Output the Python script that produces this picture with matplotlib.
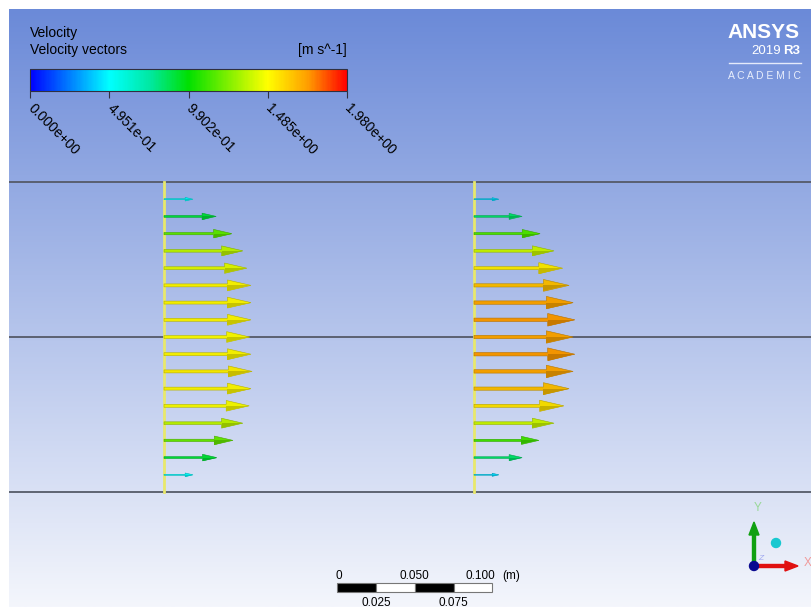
import numpy as np
import matplotlib
matplotlib.use('Agg')
from matplotlib import pyplot as plt
from matplotlib.colors import LinearSegmentedColormap, Normalize, to_rgb
from matplotlib.cm import ScalarMappable
from matplotlib.patches import Rectangle, FancyArrow, Circle, Polygon
from matplotlib.lines import Line2D

plt.rcParams['font.family'] = ['Liberation Sans', 'DejaVu Sans']

# geometry of the channel (m)
walls = [0.0, 0.1, 0.2]
planes = [0.1, 0.3]

# sample points on each plane, bottom to top (m)
y_pos = [0.0111, 0.0222, 0.0333, 0.0444, 0.0556, 0.0667, 0.0778, 0.0889, 0.1000,
         0.1111, 0.1222, 0.1333, 0.1444, 0.1556, 0.1667, 0.1778, 0.1889]

# velocity magnitude (m/s) at each point
vel_plane1 = [0.50, 0.91, 1.19, 1.36, 1.47, 1.50, 1.52, 1.50, 1.48,
              1.50, 1.50, 1.50, 1.43, 1.36, 1.17, 0.90, 0.50]
vel_plane2 = [0.43, 0.83, 1.12, 1.38, 1.55, 1.64, 1.71, 1.74, 1.71,
              1.74, 1.71, 1.64, 1.53, 1.38, 1.14, 0.83, 0.43]

vmin, vmax = 0.0, 1.980
cbar_ticks = [0.0, 0.4951, 0.9902, 1.485, 1.980]
cbar_labels = ['0.000e+00', '4.951e-01', '9.902e-01', '1.485e+00', '1.980e+00']

scale_ticks_top = [0.0, 0.050, 0.100]
scale_labels_top = ['0', '0.050', '0.100']
scale_ticks_bot = [0.025, 0.075]
scale_labels_bot = ['0.025', '0.075']

W, H = 811, 607
px_per_m = 1550.0
vec_scale = 0.0374  # m of arrow per m/s

rainbow = LinearSegmentedColormap.from_list(
    'ansys', [(0, '#0000ff'), (0.25, '#00ffff'), (0.38, '#00e8a0'), (0.5, '#00e000'),
              (0.75, '#ffff00'), (0.875, '#ffa000'), (1, '#ff0000')])
norm = Normalize(vmin, vmax)

fig = plt.figure(figsize=(W / 100, H / 100), dpi=100)
fig.patch.set_facecolor('white')

# main view, in metres
ax = fig.add_axes([9 / W, 0, (W - 9) / W, (H - 9) / H])
x0, x1 = 0.0, (W - 9) / px_per_m
y0, y1 = (492 - H) / px_per_m, (492 - 9) / px_per_m
ax.set_xlim(x0, x1)
ax.set_ylim(y0, y1)
ax.axis('off')

bg = LinearSegmentedColormap.from_list('bg', ['#f4f6fc', '#6b8ad8'])
grad = np.linspace(0, 1, 256).reshape(-1, 1)
ax.imshow(grad, extent=[x0, x1, y0, y1], origin='lower', aspect='auto', cmap=bg, zorder=0)

for w in walls:
    ax.axhline(w, color='#555a68', lw=1.3, zorder=2)
for p in planes:
    ax.plot([p, p], [walls[0], walls[-1]], color='#e8e86c', lw=2, zorder=3)

for p, vels in zip(planes, [vel_plane1, vel_plane2]):
    for y, v in zip(y_pos, vels):
        c = np.array(to_rgb(rainbow(norm(v)))) * 0.95
        L = v * vec_scale
        hl = 0.27 * L
        hw = 0.125 * L
        dark = tuple(c * 0.75)
        arr = FancyArrow(p, y, L, 0, width=0.034 * L, head_width=hw,
                         head_length=hl, length_includes_head=True,
                         facecolor=tuple(c), edgecolor=dark, lw=0.4, zorder=4)
        ax.add_patch(arr)
        # shaded lower half of the cone
        ax.add_patch(Polygon([(p + L, y), (p + L - hl, y), (p + L - hl, y - hw / 2)],
                             closed=True, facecolor=tuple(c * 0.82), edgecolor='none', zorder=5))

# scale bar
sb_x = (337.3 - 9) / px_per_m
sb_y = (492 - 592.3) / px_per_m
sb_h = 9 / px_per_m
for i in range(4):
    ax.add_patch(Rectangle((sb_x + i * 0.025, sb_y), 0.025, sb_h,
                           facecolor='black' if i % 2 == 0 else 'white',
                           edgecolor='#777777', lw=0.8, zorder=5))
ty = (492 - 576) / px_per_m
by = (492 - 602.5) / px_per_m
for t, lab in zip(scale_ticks_top, scale_labels_top):
    dx = 0
    if t == 0:
        dx = 2 / px_per_m
    if t == 0.1:
        dx = -12 / px_per_m
    ax.text(sb_x + t + dx, ty, lab, ha='center', va='center', fontsize=8.5, color='black', zorder=6)
ax.text(sb_x + 0.1 + 10 / px_per_m, ty, '(m)', ha='left', va='center', fontsize=8.5, zorder=6)
for t, lab in zip(scale_ticks_bot, scale_labels_bot):
    ax.text(sb_x + t, by, lab, ha='center', va='center', fontsize=8.5, zorder=6)

# legend
fig.text(30 / W, 1 - 37 / H, 'Velocity', fontsize=10, va='baseline', color='black')
fig.text(30 / W, 1 - 54 / H, 'Velocity vectors', fontsize=10, va='baseline', color='black')
fig.text(347 / W, 1 - 54 / H, '[m s^-1]', fontsize=10, va='baseline', ha='right', color='black')

cax = fig.add_axes([30 / W, 1 - 91 / H, 317 / W, 22 / H])
cb = fig.colorbar(ScalarMappable(norm=norm, cmap=rainbow), cax=cax,
                  orientation='horizontal', ticks=cbar_ticks)
cb.outline.set_edgecolor('#303040')
cb.outline.set_linewidth(0.8)
cax.tick_params(axis='x', direction='out', length=5, width=0.8, color='#303040', pad=6)
cax.set_xticklabels(cbar_labels, rotation=-45, ha='left', va='center',
                    rotation_mode='anchor', fontsize=10)

# logo
fig.text(800 / W, 1 - 38 / H, 'ANSYS', fontsize=15, weight='bold', color='white',
         ha='right', va='baseline')
fig.text(800 / W, 1 - 54.5 / H, 'R3', fontsize=9.5, weight='bold', color='white',
         ha='right', va='baseline')
fig.text(781 / W, 1 - 54.5 / H, '2019', fontsize=9.5, color='white', ha='right', va='baseline')
fig.add_artist(Line2D([729 / W, 801 / W], [1 - 62.5 / H, 1 - 62.5 / H], color='#e4eafa', lw=1))
fig.text(801 / W, 1 - 79 / H, 'A C A D E M I C', fontsize=7.5, color='#e8eefc',
         ha='right', va='baseline')

# axis triad (screen overlay)
ov = fig.add_axes([0, 0, 1, 1])
ov.set_xlim(0, W)
ov.set_ylim(H, 0)
ov.axis('off')
ov.add_patch(FancyArrow(754, 566, 0, -44, width=3, head_width=10, head_length=13,
                        length_includes_head=True, color='#10a010', zorder=5))
ov.add_patch(FancyArrow(754, 566, 44, 0, width=3, head_width=10, head_length=13,
                        length_includes_head=True, color='#e01010', zorder=5))
ov.add_patch(Circle((754, 566), 4.5, color='#0a0a90', zorder=6))
ov.add_patch(Circle((776, 543), 4.5, color='#18c8d0', zorder=6))
ov.text(758, 508, 'Y', fontsize=8.5, color='#98d898', ha='center', va='center')
ov.text(808, 563, 'X', fontsize=8.5, color='#f09a9a', ha='center', va='center')
ov.text(761, 559, 'Z', fontsize=6, color='#a0a8f0', ha='center', va='center', style='italic')

fig.savefig('out.png', dpi=100)
